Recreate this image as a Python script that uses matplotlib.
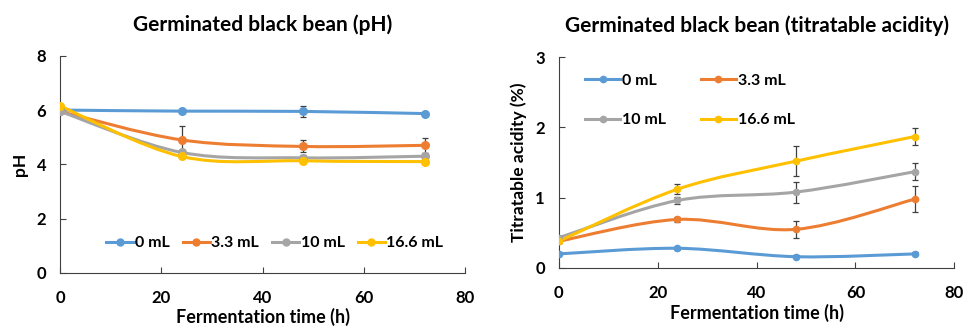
import matplotlib.pyplot as plt
from matplotlib.path import Path
from matplotlib.patches import PathPatch
from matplotlib.lines import Line2D
import numpy as np

# fermentation time (h)
czas = [0, 24, 48, 72]
serie = ["0 mL", "3.3 mL", "10 mL", "16.6 mL"]
kolory = ["#5B9BD5", "#ED7D31", "#A5A5A5", "#FFC000"]

# pH
ph_0 = [6.0, 5.96, 5.95, 5.87]
ph_33 = [5.95, 4.90, 4.66, 4.70]
ph_10 = [5.95, 4.44, 4.24, 4.30]
ph_166 = [6.15, 4.29, 4.13, 4.10]
ph_err_0 = [0.0, 0.05, 0.2, 0.05]
ph_err_33 = [0.05, 0.5, 0.22, 0.27]
ph_err_10 = [0.05, 0.1, 0.12, 0.1]
ph_err_166 = [0.05, 0.05, 0.05, 0.05]

# titratable acidity (%)
ta_0 = [0.20, 0.28, 0.16, 0.20]
ta_33 = [0.38, 0.69, 0.55, 0.98]
ta_10 = [0.43, 0.96, 1.08, 1.37]
ta_166 = [0.38, 1.12, 1.52, 1.87]
ta_err_0 = [0.02, 0.02, 0.02, 0.02]
ta_err_33 = [0.03, 0.04, 0.12, 0.18]
ta_err_10 = [0.03, 0.05, 0.15, 0.12]
ta_err_166 = [0.03, 0.07, 0.21, 0.12]

plt.rcParams['font.family'] = ['Lato', 'DejaVu Sans']
plt.rcParams['font.weight'] = 'bold'


def gladka_linia(ax, x, y, kolor):
    # Excel-like smoothed line: cubic Bezier through the points
    x = np.asarray(x, float)
    y = np.asarray(y, float)
    n = len(x)
    verts = [(x[0], y[0])]
    codes = [Path.MOVETO]
    for i in range(n - 1):
        p0 = np.array([x[max(i - 1, 0)], y[max(i - 1, 0)]])
        p1 = np.array([x[i], y[i]])
        p2 = np.array([x[i + 1], y[i + 1]])
        p3 = np.array([x[min(i + 2, n - 1)], y[min(i + 2, n - 1)]])
        c1 = p1 + (p2 - p0) / 6
        c2 = p2 - (p3 - p1) / 6
        verts += [tuple(c1), tuple(c2), tuple(p2)]
        codes += [Path.CURVE4] * 3
    ax.add_patch(PathPatch(Path(verts, codes), fill=False, edgecolor=kolor, lw=2.2, zorder=2))


def wykres(ax, dane, bledy, ms):
    for y, e, kolor in zip(dane, bledy, kolory):
        gladka_linia(ax, czas, y, kolor)
        ax.errorbar(czas, y, yerr=e, fmt='o', color=kolor, ms=ms, ecolor='#404040',
                    elinewidth=0.9, capsize=2.5, capthick=0.9, zorder=3)
    for s in ['top', 'right']:
        ax.spines[s].set_visible(False)
    for s in ['left', 'bottom']:
        ax.spines[s].set_color('#404040')
    ax.tick_params(direction='in', length=4, labelsize=12, color='#404040')
    ax.tick_params(axis='x', pad=12)
    ax.tick_params(axis='y', pad=10)
    ax.set_xlim(0, 80)
    ax.set_xticks([0, 20, 40, 60, 80])
    ax.set_xlabel("Fermentation time (h)", fontsize=13, fontweight='bold', labelpad=2)
    for lab in ax.get_xticklabels() + ax.get_yticklabels():
        lab.set_fontweight('bold')


def uchwyty(ms):
    return [Line2D([0], [0], color=k, lw=2.2, marker='o', ms=ms) for k in kolory]


fig = plt.figure(figsize=(9.65, 3.3), dpi=100)

ax1 = fig.add_axes([0.0622, 0.173, 0.4197, 0.658])
wykres(ax1, [ph_0, ph_33, ph_10, ph_166],
       [ph_err_0, ph_err_33, ph_err_10, ph_err_166], 5.5)
ax1.set_ylim(0, 8)
ax1.set_yticks([0, 2, 4, 6, 8])
ax1.set_ylabel("pH", fontsize=12.5, fontweight='bold', labelpad=6)
ax1.set_title("Germinated black bean (pH)", fontsize=15, fontweight='bold', pad=18)
ax1.legend(uchwyty(5), serie, loc='lower right', bbox_to_anchor=(0.97, 0.06), ncol=4,
           frameon=False, fontsize=11.5, handlelength=1.7, handletextpad=0.1,
           columnspacing=0.8, borderaxespad=0.2)

ax2 = fig.add_axes([0.579, 0.188, 0.410, 0.639])
wykres(ax2, [ta_0, ta_33, ta_10, ta_166],
       [ta_err_0, ta_err_33, ta_err_10, ta_err_166], 4.5)
ax2.set_ylim(0, 3)
ax2.set_yticks([0, 1, 2, 3])
ax2.set_ylabel("Titratable acidity (%)", fontsize=12.5, fontweight='bold', labelpad=6)
ax2.set_title("Germinated black bean (titratable acidity)", fontsize=15, fontweight='bold', pad=18)
kolejnosc = [0, 2, 1, 3]
h = uchwyty(4.5)
ax2.legend([h[i] for i in kolejnosc], [serie[i] for i in kolejnosc], loc='upper left',
           bbox_to_anchor=(0.03, 0.99), ncol=2, frameon=False, fontsize=11.5,
           handlelength=2.2, handletextpad=0.1, columnspacing=2.2, labelspacing=1.6)

fig.savefig("out.png", dpi=100)
